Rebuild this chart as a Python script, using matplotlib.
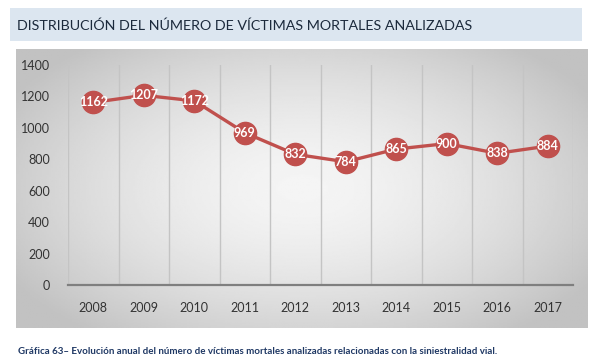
import matplotlib.pyplot as plt
import numpy as np

# datos
years = ['2008', '2009', '2010', '2011', '2012', '2013', '2014', '2015', '2016', '2017']
victims = [1162, 1207, 1172, 969, 832, 784, 865, 900, 838, 884]
yticks = [0, 200, 400, 600, 800, 1000, 1200, 1400]

title = 'DISTRIBUCIÓN DEL NÚMERO DE VÍCTIMAS MORTALES ANALIZADAS'
caption = ('Gráfica 63– Evolución anual del número de víctimas mortales '
           'analizadas relacionadas con la siniestralidad vial.')

W, H = 604, 363
fig = plt.figure(figsize=(W / 100, H / 100), dpi=100)
fig.patch.set_facecolor('white')

# banda del título
band = fig.add_axes([10 / W, 1 - 41 / H, 572 / W, 33 / H])
band.set_facecolor('#dce6f0')
band.set_xticks([])
band.set_yticks([])
for s in band.spines.values():
    s.set_visible(False)
band.text(0.013, 0.45, title, transform=band.transAxes, va='center', ha='left',
          fontsize=10.3, color='#1c2a3c', family='Lato')

# fondo degradado del gráfico
bg = fig.add_axes([16 / W, 1 - 328 / H, 572 / W, 279 / H])
gx = np.linspace(-1, 1, 300)
gy = np.linspace(-1, 1, 200)
X, Y = np.meshgrid(gx, gy)
R = np.clip(np.sqrt((X * 0.85) ** 2 + (Y * 0.75) ** 2), 0, 1)
val = 0.96 - 0.2 * R ** 1.6
bg.imshow(val, cmap='gray', vmin=0, vmax=1, aspect='auto', extent=[0, 1, 0, 1])
bg.set_xticks([])
bg.set_yticks([])
for s in bg.spines.values():
    s.set_visible(False)

# gráfico de líneas
ax = fig.add_axes([68 / W, 1 - 285 / H, 505 / W, 220 / H])
ax.patch.set_alpha(0)
x = np.arange(len(years))
ax.set_xlim(-0.5, len(years) - 0.5)
ax.set_ylim(0, 1400)

for b in np.arange(-0.5, len(years), 1.0):
    ax.axvline(b, color='#c4c4c4', lw=1.0, zorder=1)

ax.plot(x, victims, color='#c0504d', lw=2.4, marker='o', markersize=16,
        markerfacecolor='#c0504d', markeredgecolor='#c0504d', zorder=3)
for xi, v in zip(x, victims):
    ax.text(xi, v, str(v), ha='center', va='center', color='white',
            fontsize=9, fontweight='bold', family='Lato', zorder=4)

ax.set_xticks(x)
ax.set_xticklabels(years)
ax.set_yticks(yticks)
for s in ['top', 'right', 'left']:
    ax.spines[s].set_visible(False)
ax.spines['bottom'].set_color('#7f7f7f')
ax.spines['bottom'].set_linewidth(1.6)
ax.tick_params(axis='both', length=0, labelsize=9, colors='#333333')
ax.tick_params(axis='x', pad=12)
ax.tick_params(axis='y', pad=13)
for lab in ax.get_xticklabels() + ax.get_yticklabels():
    lab.set_family('Lato')

fig.text(18 / W, 1 - 351 / H, caption, ha='left', va='center', fontsize=7,
         fontweight='bold', color='#1f3864', family='Lato')

fig.savefig('out.png', dpi=100)
